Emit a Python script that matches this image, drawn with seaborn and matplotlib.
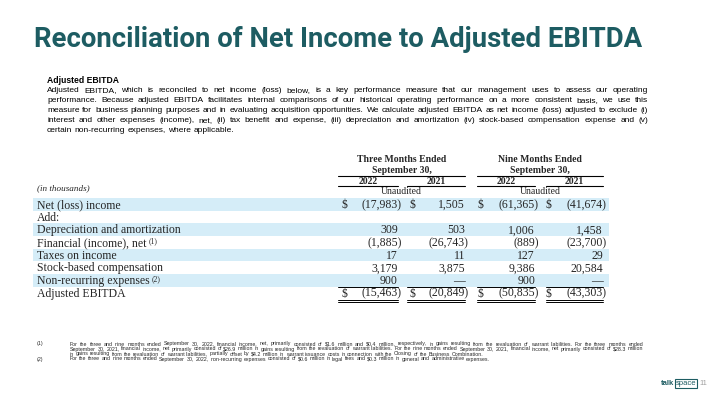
import matplotlib
matplotlib.use("Agg")
import matplotlib.pyplot as plt
import seaborn as sns
from matplotlib import font_manager

# ---- content -------------------------------------------------------------
TITLE = "Reconciliation of Net Income to Adjusted EBITDA"
HEADING = "Adjusted EBITDA"
paragraph = [
    "Adjusted EBITDA, which is reconciled to net income (loss) below, is a key performance measure that our management uses to assess our operating",
    "performance. Because adjusted EBITDA facilitates internal comparisons of our historical operating performance on a more consistent basis, we use this",
    "measure for business planning purposes and in evaluating acquisition opportunities. We calculate adjusted EBITDA as net income (loss) adjusted to exclude (i)",
    "interest and other expenses (income), net, (ii) tax benefit and expense, (iii) depreciation and amortization (iv) stock-based compensation expense and (v)",
    "certain non-recurring expenses, where applicable.",
]
note_1 = [
    "For the three and nine months ended September 30, 2022, financial income, net, primarily consisted of $1.6 million and $0.4 million, respectively, in gains resulting from the revaluation of warrant liabilities. For the three months ended",
    "September 30, 2021, financial income, net primarily consisted of $26.9 million in gains resulting from the revaluation of warrant liabilities. For the nine months ended September 30, 2021, financial income, net primarily consisted of $28.3 million",
    "in gains resulting from the revaluation of warrant liabilities, partially offset by $4.2 million in warrant issuance costs in connection with the Closing of the Business Combination.",
]
note_2 = [
    "For the three and nine months ended September 30, 2022, non-recurring expenses consisted of $0.6 million in legal fees and $0.3 million in general and administrative expenses.",
]

row_labels = ["Net (loss) income", "Add:", "Depreciation and amortization",
              "Financial (income), net", "Taxes on income",
              "Stock-based compensation", "Non-recurring expenses", "Adjusted EBITDA"]
row_notes = ["", "", "", "(1)", "", "", "(2)", ""]
periods = ["Three Months Ended", "Nine Months Ended"]
years = ["2022", "2021", "2022", "2021"]
q3_2022 = [-17983, None, 309, -1885, 17, 3179, 900, -15463]
q3_2021 = [1505, None, 503, -26743, 11, 3875, 0, -20849]
ytd_2022 = [-61365, None, 1006, -889, 127, 9386, 900, -50835]
ytd_2021 = [-41674, None, 1458, -23700, 29, 20584, 0, -43303]
dollar_rows = [0, 7]
shaded_rows = [0, 2, 4, 6]

# ---- style ---------------------------------------------------------------
TEAL = "#1d5c62"
BAND = "#d5edf8"
sns.set_theme(style="white")
names = {f.name for f in font_manager.fontManager.ttflist}
title_font = "Liberation Sans Narrow" if "Liberation Sans Narrow" in names else "Roboto"
SANS = ["Liberation Sans", "DejaVu Sans"]
SERIF = ["Liberation Serif", "DejaVu Serif"]
plt.rcParams["font.family"] = SANS

fig = plt.figure(figsize=(7.2, 4.05), dpi=100)
ax = fig.add_axes([0, 0, 1, 1])
ax.set_xlim(0, 720)
ax.set_ylim(405, 0)
ax.axis("off")
renderer = fig.canvas.get_renderer()


def txt(x, y, s, **kw):
    kw.setdefault("va", "baseline")
    return ax.text(x, y, s, parse_math=False, **kw)


def width(t):
    return t.get_window_extent(renderer=renderer).width


def fit_size(lines, target, base=6.0, **kw):
    # font size at which the longest line is just under the target width
    best = 0
    for line in lines:
        t = txt(0, 0, line, fontsize=base, **kw)
        best = max(best, width(t))
        t.remove()
    return base * target / best


def justify(lines, x0, x1, y0, dy, size, last_free=True, **kw):
    probe1 = txt(0, 0, "a a", fontsize=size, **kw)
    probe2 = txt(0, 0, "aa", fontsize=size, **kw)
    space = width(probe1) - width(probe2)
    probe1.remove()
    probe2.remove()
    for i, line in enumerate(lines):
        words = line.split(" ")
        y = y0 + i * dy
        ts = [txt(0, y, w, fontsize=size, **kw) for w in words]
        ws = [width(t) for t in ts]
        if (i == len(lines) - 1 and last_free) or len(words) < 2:
            gap = space
        else:
            gap = (x1 - x0 - sum(ws)) / (len(words) - 1)
        x = x0
        for t, w in zip(ts, ws):
            t.set_x(x)
            x += w + gap


# ---- title ---------------------------------------------------------------
t = txt(34, 47, TITLE, fontsize=20, fontweight="bold", color=TEAL, family=title_font)
t.set_fontsize(20 * 608 / width(t))

# ---- paragraph -----------------------------------------------------------
txt(47, 83, HEADING, fontsize=6.2, fontweight="bold", color="black")
p_size = fit_size(paragraph, 598)
justify(paragraph, 47, 648, 92.5, 9.8, p_size, color="black")

# ---- table ---------------------------------------------------------------
row0, step = 204.5, 12.64
row_y = [row0 + i * step for i in range(len(row_labels))]
ax.barh([row_y[i] for i in shaded_rows], [576] * len(shaded_rows), left=33,
        height=step, color=BAND, linewidth=0)

num_right = [398, 465, 535, 603]
dollar_x = [341, 409, 477, 546]
col_left = [338, 407, 477, 546]
cols = [q3_2022, q3_2021, ytd_2022, ytd_2021]
fs = 8.5

txt(37, 190, "(in thousands)", fontsize=6.6, fontstyle="italic", family=SERIF)
for i, (lab, note) in enumerate(zip(row_labels, row_notes)):
    lt = txt(37, row_y[i] + 3.7, lab, fontsize=fs, family=SERIF)
    if note:
        txt(37 + width(lt) + 2.5, row_y[i] + 0.5, note, fontsize=5.5, family=SERIF)

for c, vals in enumerate(cols):
    for i, v in enumerate(vals):
        if v is None:
            continue
        y = row_y[i] + 3.7
        if i in dollar_rows:
            txt(dollar_x[c], y, "$", fontsize=fs, family=SERIF)
        if v < 0:
            txt(num_right[c] + 3.6, y, f"({-v:,})", fontsize=fs, family=SERIF, ha="right")
        elif v == 0:
            txt(num_right[c], y, "\u2014", fontsize=fs, family=SERIF, ha="right")
        else:
            txt(num_right[c], y, f"{v:,}", fontsize=fs, family=SERIF, ha="right")
    # year header + underline
    mid = (col_left[c] + num_right[c]) / 2
    txt(mid, 183.5, years[c], fontsize=7.0, fontweight="bold", family=SERIF, ha="center")
    ax.plot([col_left[c], num_right[c]], [186, 186], color="black", lw=0.8)
    # rule above the total and double rule below it
    y_top = row_y[7] - step / 2
    ax.plot([col_left[c], num_right[c]], [y_top, y_top], color="black", lw=0.7)
    for yy in (299.6, 301.8):
        ax.plot([col_left[c], num_right[c]], [yy, yy], color="black", lw=0.7)

for p, name in enumerate(periods):
    x0, x1 = col_left[2 * p], num_right[2 * p + 1]
    mid = (x0 + x1) / 2
    txt(mid, 162.5, name, fontsize=7.0, fontweight="bold", family=SERIF, ha="center")
    txt(mid, 173, "September 30,", fontsize=7.0, fontweight="bold", family=SERIF, ha="center")
    ax.plot([x0, x1], [175.5, 175.5], color="black", lw=0.8)
    txt(mid, 193.5, "Unaudited", fontsize=7, family=SERIF, ha="center")

# ---- footnotes -----------------------------------------------------------
n_size = fit_size(note_1 + note_2, 570)
txt(37, 345.5, "(1)", fontsize=n_size)
justify(note_1, 70, 643, 345.5, 5.0, n_size)
txt(37, 360.5, "(2)", fontsize=n_size)
justify(note_2, 70, 643, 360.5, 5.0, n_size)

# ---- footer --------------------------------------------------------------
lt = txt(661, 385, "talk", fontsize=5.5, fontweight="bold", color=TEAL)
txt(661 + width(lt) + 1.5, 385, "space", fontsize=5.5, color=TEAL,
    bbox=dict(boxstyle="square,pad=0.15", fc="white", ec=TEAL, lw=0.8))
txt(699, 385, "11", fontsize=5.5, color="#a0a0a0")

fig.savefig("out.png", dpi=100)
